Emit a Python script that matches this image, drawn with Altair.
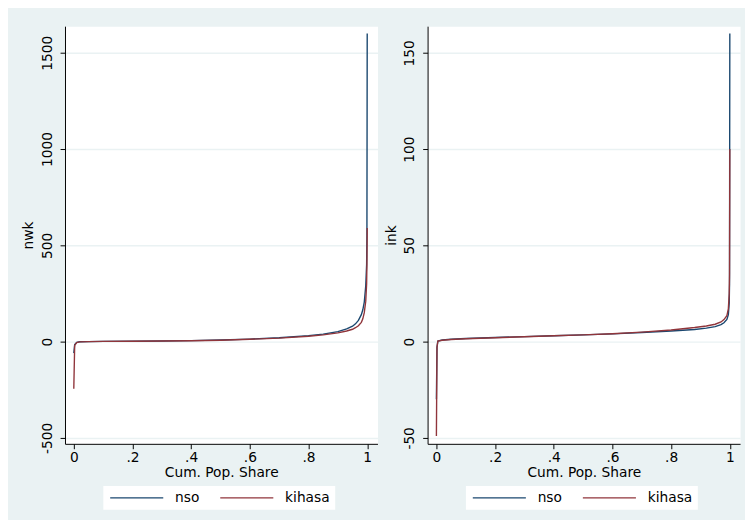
import altair as alt
import pandas as pd

# ---- data (Pen's parade / quantile curves) ----
nwk_p_nso = [0.0, 0.003, 0.01, 0.02, 0.05, 0.1, 0.2, 0.3, 0.4, 0.5, 0.6, 0.7, 0.8, 0.85, 0.9, 0.93, 0.95, 0.96, 0.97, 0.98, 0.985, 0.99, 0.995, 0.998, 0.999, 1.0]
nwk_nso = [-60, -15, -4, -1, 0, 1, 2, 3, 5, 8, 13, 20, 31, 39, 52, 66, 80, 92, 110, 140, 165, 205, 290, 400, 550, 1600]
nwk_p_kih = [0.0, 0.003, 0.01, 0.02, 0.05, 0.1, 0.2, 0.3, 0.4, 0.5, 0.6, 0.7, 0.8, 0.85, 0.9, 0.93, 0.95, 0.96, 0.97, 0.98, 0.985, 0.99, 0.995, 0.998, 0.999, 1.0]
nwk_kih = [-245, -20, -5, -1.5, 0, 1, 2, 3, 4.5, 7, 12, 18, 28, 35, 45, 55, 64, 72, 82, 100, 118, 150, 210, 300, 400, 590]

ink_p_nso = [0.0, 0.002, 0.005, 0.02, 0.05, 0.1, 0.2, 0.3, 0.4, 0.5, 0.6, 0.7, 0.8, 0.88, 0.92, 0.95, 0.97, 0.98, 0.99, 0.995, 0.998, 0.999, 1.0]
ink_nso = [-30, -3, 0.3, 0.8, 1.2, 1.6, 2.1, 2.6, 3.0, 3.5, 4.0, 4.7, 5.5, 6.3, 7.0, 7.8, 8.8, 9.8, 11.5, 14, 20, 30, 160]
ink_p_kih = [0.0, 0.002, 0.005, 0.02, 0.05, 0.1, 0.2, 0.3, 0.4, 0.5, 0.6, 0.7, 0.8, 0.88, 0.92, 0.95, 0.97, 0.98, 0.99, 0.995, 0.998, 0.999, 1.0]
ink_kih = [-49, -3, 0.3, 0.7, 1.1, 1.5, 2.0, 2.5, 3.0, 3.5, 4.1, 4.9, 6.0, 7.3, 8.1, 9.0, 10.2, 11.4, 13.5, 17, 25, 35, 100]

series_names = ["nso", "kihasa"]
series_colors = ["#1a476f", "#90353b"]
x_ticks = [0, 0.2, 0.4, 0.6, 0.8, 1]
nwk_ticks = [-500, 0, 500, 1000, 1500]
ink_ticks = [-50, 0, 50, 100, 150]

FONT = "DejaVu Sans"
BG = "#eaf2f3"
PW, PH = 318, 425


def frame(p, v, name):
    return pd.DataFrame({"p": p, "v": v, "series": name})


def panel(df_nso, df_kih, ytitle, ydomain, yticks):
    color = alt.Color(
        "series:N",
        scale=alt.Scale(domain=series_names, range=series_colors),
        legend=alt.Legend(
            title=None, orient="none", legendX=39, legendY=468,
            direction="horizontal", fillColor="white", padding=5,
            symbolType="M-1,0H9.8", symbolSize=100, symbolStrokeWidth=1.5,
            labelFontSize=14, labelFont=FONT, labelColor="#000",
            labelOffset=54, columnPadding=18,
        ),
    )
    x = alt.X(
        "p:Q",
        scale=alt.Scale(domain=[-0.03, 1.035], nice=False, zero=False),
        axis=alt.Axis(
            values=x_ticks, grid=False, title="Cum. Pop. Share",
            labelExpr="replace(toString(datum.value), '0.', '.')",
            tickSize=5, labelPadding=2, titlePadding=1,
        ),
    )
    y = alt.Y(
        "v:Q",
        scale=alt.Scale(domain=ydomain, nice=False, zero=False),
        axis=alt.Axis(
            values=yticks, grid=True, title=ytitle,
            labelExpr="'' + datum.value", labelAngle=270,
            labelAlign="center", labelBaseline="bottom",
            tickSize=5, labelPadding=6, titlePadding=5,
        ),
    )
    l1 = alt.Chart(df_nso).mark_line(strokeWidth=1.4).encode(x=x, y=y, color=color)
    l2 = alt.Chart(df_kih).mark_line(strokeWidth=1.4).encode(x=x, y=y, color=color)
    return alt.layer(l1, l2).properties(width=PW, height=PH)


left = panel(frame(nwk_p_nso, nwk_nso, "nso"), frame(nwk_p_kih, nwk_kih, "kihasa"),
             "nwk", [-531, 1638], nwk_ticks)
right = panel(frame(ink_p_nso, ink_nso, "nso"), frame(ink_p_kih, ink_kih, "kihasa"),
              "ink", [-53.1, 163.8], ink_ticks)

chart = (
    alt.hconcat(left, right, spacing=5)
    .resolve_scale(color="independent", y="independent", x="independent")
    .properties(background=BG, padding={"left": 13, "top": 13, "right": 4, "bottom": 5})
    .configure_view(fill="white", stroke="transparent")
    .configure_axis(
        domainColor="#000", tickColor="#000", labelColor="#000", titleColor="#000",
        labelFont=FONT, titleFont=FONT, labelFontSize=14, titleFontSize=14,
        titleFontWeight="normal", gridColor=BG, gridWidth=1.5, domainWidth=1,
    )
)

chart.save("out.html", embed_options={"renderer": "svg", "actions": False})
